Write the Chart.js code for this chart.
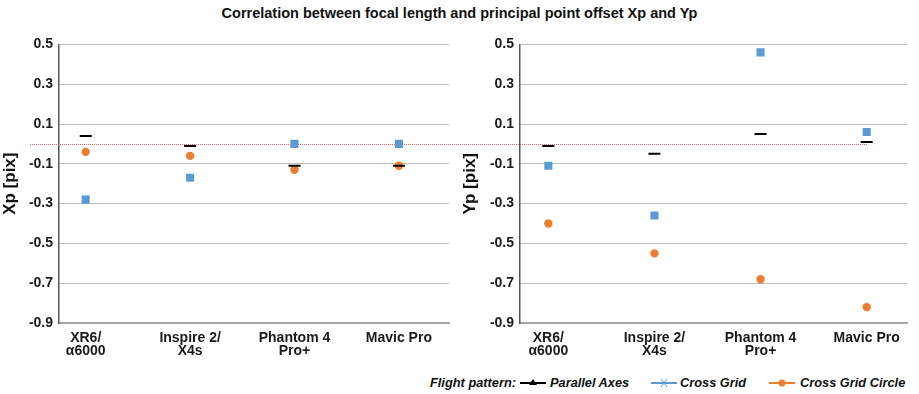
<!DOCTYPE html>
<html>
<head>
<meta charset="utf-8">
<script src="https://cdn.jsdelivr.net/npm/chart.js@4.4.0/dist/chart.umd.min.js"></script>
<style>
  html, body { margin: 0; padding: 0; background: #fff; }
  #wrap { position: relative; width: 919px; height: 394px; font-family: "Liberation Sans", Arial, sans-serif; }
  #title { position: absolute; left: 0; top: 5px; width: 919px; text-align: center; font-weight: bold; font-size: 14.5px; color: #111; }
  #c1box { position: absolute; left: 0; top: 30px; width: 460px; height: 335px; }
  #c2box { position: absolute; left: 460px; top: 30px; width: 459px; height: 335px; }
  .lg { position: absolute; top: 375px; height: 16px; line-height: 16px; font-size: 12.8px; font-weight: bold; font-style: italic; color: #111; white-space: nowrap; }
  .lg svg { display: block; margin-top: 2px; }
</style>
</head>
<body>
<div id="wrap">
  <div id="title">Correlation between focal length and principal point offset Xp and Yp</div>
  <div id="c1box"><canvas id="c1"></canvas></div>
  <div id="c2box"><canvas id="c2"></canvas></div>
  <span class="lg" style="left:430px">Flight pattern:</span>
  <span class="lg" style="left:519px"><svg width="28" height="12"><line x1="1" y1="6" x2="27" y2="6" stroke="#000" stroke-width="2"/><polygon points="14,2 18,8 10,8" fill="#000"/></svg></span>
  <span class="lg" style="left:550px">Parallel Axes</span>
  <span class="lg" style="left:650px"><svg width="28" height="12"><line x1="1" y1="6" x2="27" y2="6" stroke="#5B9BD5" stroke-width="2"/><path d="M11,2 L17,10 M17,2 L11,10" stroke="#5B9BD5" stroke-width="1"/></svg></span>
  <span class="lg" style="left:680px">Cross Grid</span>
  <span class="lg" style="left:768px"><svg width="28" height="12"><line x1="1" y1="6" x2="27" y2="6" stroke="#ED7D31" stroke-width="2"/><circle cx="14" cy="6" r="3.5" fill="#ED7D31"/></svg></span>
  <span class="lg" style="left:800px">Cross Grid Circle</span>
</div>
<script>
const categories = [["XR6/", "α6000"], ["Inspire 2/", "X4s"], ["Phantom 4", "Pro+"], ["Mavic Pro"]];
const seriesNames = ["Parallel Axes", "Cross Grid", "Cross Grid Circle"];
const xpParallel = [0.04, -0.01, -0.11, -0.11];
const xpCross = [-0.28, -0.17, 0.00, 0.00];
const xpCircle = [-0.04, -0.06, -0.13, -0.11];
const ypParallel = [-0.01, -0.05, 0.05, 0.01];
const ypCross = [-0.11, -0.36, 0.46, 0.06];
const ypCircle = [-0.40, -0.55, -0.68, -0.82];
const yTicks = [0.5, 0.3, 0.1, -0.1, -0.3, -0.5, -0.7, -0.9];

const FONT = "'Liberation Sans', Arial, sans-serif";
const toPts = arr => arr.map((v, i) => ({ x: i, y: v }));

function zeroLine(x0, x1) {
  return {
    id: 'zeroLine',
    beforeDatasetsDraw(chart) {
      const y = Math.round(chart.scales.y.getPixelForValue(0)) + 0.5;
      const ctx = chart.ctx;
      ctx.save();
      ctx.strokeStyle = 'rgba(255,60,60,0.85)';
      ctx.lineWidth = 1;
      ctx.setLineDash([1, 1]);
      ctx.beginPath();
      ctx.moveTo(x0, y);
      ctx.lineTo(x1 === null ? chart.width : x1, y);
      ctx.stroke();
      ctx.restore();
    }
  };
}

function makeChart(id, title, d1, d2, d3, yWidth, xmin, xmax, padRight, lineFrom, lineTo) {
  return new Chart(document.getElementById(id), {
    type: 'scatter',
    data: {
      datasets: [
        { label: seriesNames[0], data: toPts(d1), pointStyle: 'line', pointRadius: 6, borderWidth: 2, borderColor: '#000', backgroundColor: '#000', showLine: false },
        { label: seriesNames[1], data: toPts(d2), pointStyle: 'rect', pointRadius: 5.7, borderWidth: 0, borderColor: '#5B9BD5', backgroundColor: '#5B9BD5', showLine: false },
        { label: seriesNames[2], data: toPts(d3), pointStyle: 'circle', pointRadius: 4.2, borderWidth: 0, borderColor: '#ED7D31', backgroundColor: '#ED7D31', showLine: false }
      ]
    },
    options: {
      responsive: true,
      maintainAspectRatio: false,
      animation: false,
      layout: { padding: { top: 14, right: padRight, bottom: 0, left: 0 } },
      plugins: { legend: { display: false }, tooltip: { enabled: false } },
      scales: {
        x: {
          type: 'linear', min: xmin, max: xmax,
          afterBuildTicks: ax => { ax.ticks = categories.map((c, i) => ({ value: i })); },
          afterFit: s => { s.height = 42; },
          ticks: { callback: (v) => categories[v], font: { family: FONT, size: 14, weight: 'bold', lineHeight: 0.95 }, color: '#1a1a1a', padding: 8, maxRotation: 0, autoSkip: false },
          grid: { display: false, drawTicks: false },
          border: { color: '#a6a6a6', width: 2 }
        },
        y: {
          min: -0.9, max: 0.5,
          afterBuildTicks: ax => { ax.ticks = yTicks.map(v => ({ value: v })); },
          afterFit: s => { s.width = yWidth; },
          ticks: { callback: v => v.toFixed(1), font: { family: FONT, size: 14, weight: 'bold' }, color: '#1a1a1a', padding: 6 },
          grid: { color: '#bdbdbd', lineWidth: 1, drawTicks: false },
          border: { color: '#555', width: 1.5 },
          title: { display: true, text: title, font: { family: FONT, size: 17, weight: 'bold' }, color: '#111', padding: { top: 0, bottom: 0 } }
        }
      }
    },
    plugins: [zeroLine(lineFrom, lineTo)]
  });
}

makeChart('c1', 'Xp [pix]', xpParallel, xpCross, xpCircle, 59, -0.256, 3.48, 11, 30, null);
makeChart('c2', 'Yp [pix]', ypParallel, ypCross, ypCircle, 60, -0.267, 3.38, 12, 0, 407);
</script>
</body>
</html>
